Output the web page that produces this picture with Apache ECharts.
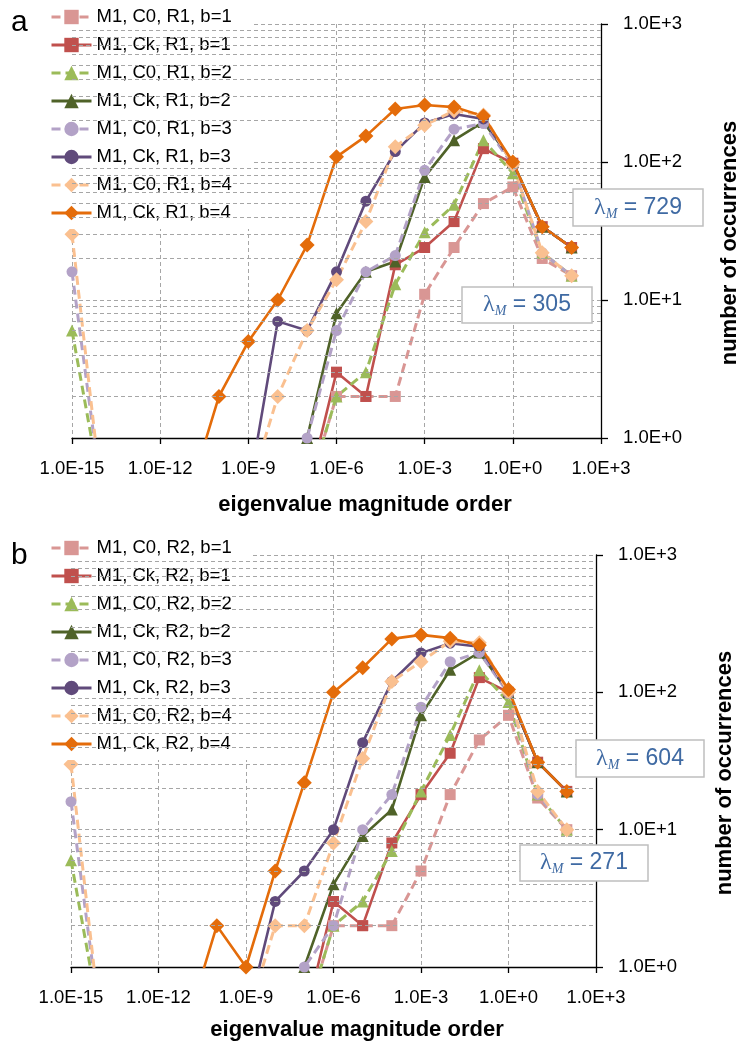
<!DOCTYPE html>
<html>
<head>
<meta charset="utf-8">
<script src="https://cdn.jsdelivr.net/npm/echarts@6/dist/echarts.min.js"></script>
<style>
html,body{margin:0;padding:0;background:#fff}
#chart{width:737px;height:1041px}
</style>
</head>
<body>
<div id="chart"></div>
<script>
// eigenvalue magnitude orders (x), 1E-15 .. 1E+2
var decades = [1e-15,1e-14,1e-13,1e-12,1e-11,1e-10,1e-9,1e-8,1e-7,1e-6,1e-5,1e-4,1e-3,1e-2,1e-1,1e0,1e1,1e2];
// zero counts are shown slightly under the axis (as in the source sheet)
var namesA = ['M1, C0, R1, b=1','M1, Ck, R1, b=1','M1, C0, R1, b=2','M1, Ck, R1, b=2',
              'M1, C0, R1, b=3','M1, Ck, R1, b=3','M1, C0, R1, b=4','M1, Ck, R1, b=4'];
var namesB = ['M1, C0, R2, b=1','M1, Ck, R2, b=1','M1, C0, R2, b=2','M1, Ck, R2, b=2',
              'M1, C0, R2, b=3','M1, Ck, R2, b=3','M1, C0, R2, b=4','M1, Ck, R2, b=4'];

// panel a
var a_c0_b1 = [0.4,0.4,0.4,0.4,0.4,0.4,0.4,0.4,0.4,2,2,2,11,24,50,66,20,15];
var a_ck_b1 = [0.4,0.4,0.4,0.4,0.4,0.4,0.4,0.4,0.4,3,2,18,24,37,125,98,34,24];
var a_c0_b2 = [6,0.4,0.4,0.4,0.4,0.4,0.4,0.4,0.4,2,3,13,31,49,144,83,22,15];
var a_ck_b2 = [0.4,0.4,0.4,0.4,0.4,0.4,0.4,0.4,1,8,16,19,78,144,195,100,34,24];
var a_c0_b3 = [16,0.4,0.4,0.4,0.4,0.4,0.4,0.4,1,6,16,21,87,173,190,95,22,15];
var a_ck_b3 = [0.4,0.4,0.4,0.4,0.4,0.4,0.4,7,6,16,52,119,192,223,205,98,34,24];
var a_c0_b4 = [30,0.4,0.4,0.4,0.4,0.4,0.4,2,6,14,37,129,185,235,219,96,22,15];
var a_ck_b4 = [0.4,0.4,0.4,0.4,0.4,2,5,10,25,109,154,242,259,250,215,100,34,24];

// panel b
var b_c0_b1 = [0.4,0.4,0.4,0.4,0.4,0.4,0.4,0.4,0.4,2,2,2,5,18,45,68,17,10];
var b_ck_b1 = [0.4,0.4,0.4,0.4,0.4,0.4,0.4,0.4,0.4,3,2,8,18,36,128,100,31,19];
var b_c0_b2 = [6,0.4,0.4,0.4,0.4,0.4,0.4,0.4,0.4,2,3,7,19,49,145,85,18,10];
var b_ck_b2 = [0.4,0.4,0.4,0.4,0.4,0.4,0.4,0.4,1,4,9,14,68,146,195,100,31,19];
var b_c0_b3 = [16,0.4,0.4,0.4,0.4,0.4,0.4,0.4,1,2,10,18,78,167,195,98,18,10];
var b_ck_b3 = [0.4,0.4,0.4,0.4,0.4,0.4,0.4,3,5,10,43,120,193,228,215,100,31,19];
var b_c0_b4 = [30,0.4,0.4,0.4,0.4,0.4,0.4,2,2,8,33,120,167,235,230,100,19,10];
var b_ck_b4 = [0.4,0.4,0.4,0.4,0.4,2,1,5,22,100,151,245,262,248,220,105,31,19];

var minorGrid = [2,3,4,5,6,7,8,9,20,30,40,50,60,70,80,90,200,300,400,500,600,700,800,900];

var lambdaA = [729, 305];
var lambdaB = [604, 271];

var styles = [
	{color:'#D99694', dash:true,  symbol:'rect',     size:11},
	{color:'#C0504D', dash:false, symbol:'rect',     size:11},
	{color:'#9BBB59', dash:true,  symbol:'triangle', size:12},
	{color:'#4F6228', dash:false, symbol:'triangle', size:12},
	{color:'#B3A2C7', dash:true,  symbol:'circle',   size:11},
	{color:'#604A7B', dash:false, symbol:'circle',   size:11},
	{color:'#FAC090', dash:true,  symbol:'diamond',  size:15},
	{color:'#E46C0A', dash:false, symbol:'diamond',  size:15}
];

var FONT = 'Liberation Sans, Arial, sans-serif';

function expLabel(v){
	var e = Math.round(Math.log(v) / Math.LN10);
	return '1.0E' + (e >= 0 ? '+' : '') + e;
}

function pairs(vals){
	var out = [];
	for (var i = 0; i < decades.length; i++) out.push([decades[i], vals[i]]);
	return out;
}

function lineSeries(name, vals, st, idx){
	return {
		name: name, type: 'line', xAxisIndex: idx, yAxisIndex: idx,
		data: pairs(vals), clip: true, z: 3,
		symbol: st.symbol, symbolSize: st.size,
		itemStyle: {color: st.color},
		lineStyle: {color: st.color, width: st.dash ? 3 : 2.6, type: st.dash ? [9, 5] : 'solid'},
		emphasis: {disabled: true},
		animation: false
	};
}

function gridSeries(idx){
	var d = [];
	for (var i = 0; i < minorGrid.length; i++) d.push({yAxis: minorGrid[i]});
	return {
		type: 'line', xAxisIndex: idx, yAxisIndex: idx, data: [], z: 1, silent: true,
		markLine: {silent: true, symbol: ['none','none'], label: {show: false}, animation: false,
			lineStyle: {color: '#a6a6a6', width: 1, type: [4, 3]}, data: d}
	};
}

function xAxisOf(idx, gap, pad){
	return {
		type: 'log', logBase: 10, gridIndex: idx, min: 1e-15, max: 1e3, interval: 3,
		axisLine: {show: true, lineStyle: {color: '#000', width: 1.3}},
		axisTick: {show: true, inside: false, length: 6, lineStyle: {color: '#000', width: 1.3}},
		axisLabel: {formatter: expLabel, fontSize: 18.5, color: '#000', fontFamily: FONT, margin: 21},
		splitLine: {show: true, lineStyle: {color: '#a6a6a6', width: 1, type: [4, 3]}},
		name: 'eigenvalue magnitude order', nameLocation: 'middle', nameGap: gap,
		nameTextStyle: {fontSize: 22, fontWeight: 'bold', color: '#000', fontFamily: FONT, padding: [0, 0, 0, pad]}
	};
}

function yAxisOf(idx){
	return {
		type: 'log', logBase: 10, gridIndex: idx, position: 'right', min: 1, max: 1000, interval: 1,
		axisLine: {show: true, lineStyle: {color: '#000', width: 1.3}},
		axisTick: {show: true, inside: false, length: 7, lineStyle: {color: '#000', width: 1.3}},
		axisLabel: {formatter: expLabel, fontSize: 18.5, color: '#000', fontFamily: FONT, margin: 22},
		splitLine: {show: true, lineStyle: {color: '#a6a6a6', width: 1, type: [4, 3]}},
		name: 'number of occurrences', nameLocation: 'middle', nameRotate: 90, nameGap: 118,
		nameTextStyle: {fontSize: 22, fontWeight: 'bold', color: '#000', fontFamily: FONT, padding: [0, 24, 0, 0]}
	};
}

function legendOf(names, top){
	return {
		data: names, orient: 'vertical', left: 48, top: top,
		itemWidth: 40, itemHeight: 18, itemGap: 0, selectedMode: false,
		backgroundColor: '#fff', padding: [0, 20, 2, 2],
		lineStyle: {width: 3},
		textStyle: {fontSize: 18.5, color: '#000', fontFamily: FONT, lineHeight: 28}
	};
}

function note(x, y, w, h, val){
	return [
		{type: 'rect', z: 100, shape: {x: x, y: y, width: w, height: h},
			style: {fill: '#fff', stroke: '#bfbfbf', lineWidth: 1.5}},
		{type: 'text', z: 101, x: x + w / 2, y: y + h / 2,
			style: {text: '{g|λ}{s|M}{t| = ' + val + '}', align: 'center', verticalAlign: 'middle',
				rich: {
					g: {fill: '#3F6AA3', fontSize: 24, fontFamily: 'Liberation Serif, serif', lineHeight: 27},
					s: {fill: '#3F6AA3', fontSize: 14, fontStyle: 'italic', fontFamily: 'Liberation Serif, serif', verticalAlign: 'bottom', lineHeight: 13},
					t: {fill: '#3F6AA3', fontSize: 23, fontFamily: FONT, lineHeight: 27}
				}}}
	];
}

var seriesA = [a_c0_b1, a_ck_b1, a_c0_b2, a_ck_b2, a_c0_b3, a_ck_b3, a_c0_b4, a_ck_b4];
var seriesB = [b_c0_b1, b_ck_b1, b_c0_b2, b_ck_b2, b_c0_b3, b_ck_b3, b_c0_b4, b_ck_b4];

var series = [gridSeries(0), gridSeries(1)];
for (var i = 0; i < 8; i++) series.push(lineSeries(namesA[i], seriesA[i], styles[i], 0));
for (var j = 0; j < 8; j++) series.push(lineSeries(namesB[j], seriesB[j], styles[j], 1));

var graphics = [
	{type: 'text', x: 11, y: 8, z: 50, style: {text: 'a', font: '30px ' + FONT, fill: '#000'}},
	{type: 'text', x: 11, y: 541, z: 50, style: {text: 'b', font: '30px ' + FONT, fill: '#000'}}
].concat(note(573, 189, 130, 37, lambdaA[0]), note(462, 287, 130, 36, lambdaA[1]),
         note(576, 740, 128, 37, lambdaB[0]), note(520, 845, 128, 36, lambdaB[1]));

var myChart = echarts.init(document.getElementById('chart'), null, {renderer: 'canvas'});
var option = {
	animation: false,
	backgroundColor: '#fff',
	grid: [
		{left: 72, top: 24, width: 529, height: 414, outerBoundsMode: 'none', containLabel: false},
		{left: 71, top: 555, width: 525, height: 412, outerBoundsMode: 'none', containLabel: false}
	],
	xAxis: [xAxisOf(0, 56, 57), xAxisOf(1, 52, 47)],
	yAxis: [yAxisOf(0), yAxisOf(1)],
	legend: [legendOf(namesA, 3), legendOf(namesB, 534)],
	graphic: graphics,
	series: series
};
myChart.setOption(option);
</script>
</body>
</html>
